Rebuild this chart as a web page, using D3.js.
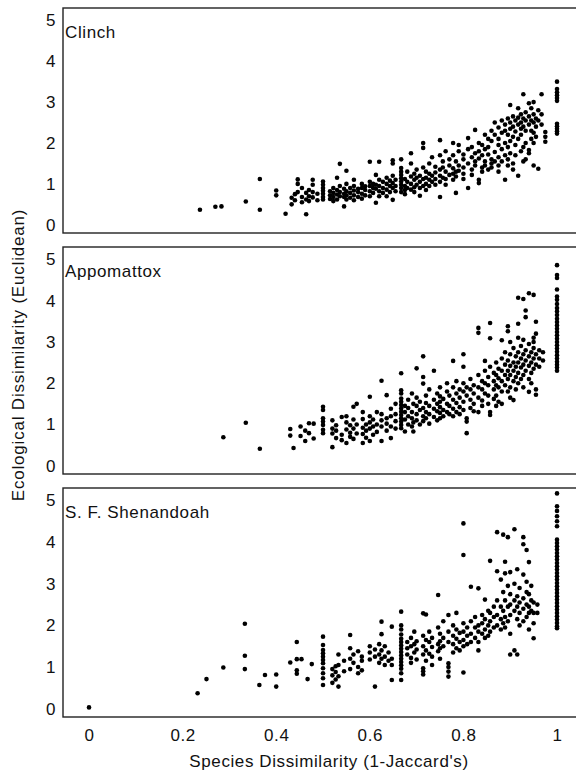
<!DOCTYPE html>
<html>
<head>
<meta charset="utf-8">
<script src="https://cdn.jsdelivr.net/npm/d3@7"></script>
<style>
  body { margin: 0; background: #fff; }
  text { font-family: "Liberation Sans", Arial, Helvetica, sans-serif; fill: #111; letter-spacing: 0.6px; }
</style>
</head>
<body>
<div id="chart"></div>
<script>
// each row: [species dissimilarity, ecological dissimilarity values at that x...]
var clinch = [
  [0.237, 0.37], [0.27, 0.44], [0.283, 0.45], [0.335, 0.57],
  [0.365, 1.12, 0.37], [0.40, 0.84, 0.72], [0.42, 0.27], [0.433, 0.66, 0.5],
  [0.44, 0.6, 0.75], [0.446, 1.11, 1.0, 0.8], [0.455, 0.68, 0.55, 0.9],
  [0.464, 0.26, 0.62, 0.78], [0.47, 0.85, 0.7, 0.58], [0.478, 1.1, 0.98, 0.8, 0.67],
  [0.488, 0.6, 0.76], [0.5, 1.06, 0.98, 0.9, 0.83, 0.76, 0.68, 0.62],
  [0.515, 0.82, 0.72, 0.63], [0.522, 0.9, 0.78, 0.68, 0.58], [0.53, 1.15, 0.85, 0.74, 0.62],
  [0.536, 1.49, 0.95, 0.8, 0.7], [0.545, 0.45, 0.68, 0.88, 0.76], [0.55, 1.32, 1.0, 0.82, 0.72, 0.62],
  [0.558, 0.9, 0.78, 0.66], [0.566, 1.1, 0.95, 0.84, 0.72, 0.6], [0.575, 0.8, 0.68, 0.88],
  [0.583, 1.0, 0.9, 0.76, 0.64], [0.59, 0.85, 0.72, 0.94], [0.6, 1.54, 1.05, 0.95, 0.82, 0.7],
  [0.607, 0.9, 0.78, 1.0], [0.613, 1.22, 0.54, 0.88, 0.98], [0.62, 1.54, 1.1, 0.95, 0.82, 0.7],
  [0.628, 1.05, 0.9, 0.78], [0.636, 0.7, 1.15, 1.0, 0.86], [0.643, 0.95, 0.8, 1.08],
  [0.649, 1.58, 1.5, 1.2, 1.02, 0.9, 0.61], [0.655, 1.1, 0.95, 0.82],
  [0.667, 1.6, 1.39, 1.3, 1.22, 1.14, 1.06, 0.98, 0.9, 0.8], [0.675, 1.12, 0.95, 0.85, 0.75],
  [0.68, 1.3, 1.05, 0.9], [0.688, 1.75, 1.5, 1.18, 1.0, 0.86], [0.695, 1.25, 1.1, 0.92, 0.8],
  [0.7, 1.35, 1.15, 0.98], [0.707, 0.71, 1.05, 1.2, 0.9], [0.714, 2.0, 1.88, 1.4, 1.12, 0.95],
  [0.72, 1.3, 1.15, 1.0, 0.85], [0.727, 1.5, 1.25, 1.1, 0.95], [0.733, 1.65, 1.2, 1.05],
  [0.74, 1.42, 1.28, 1.12, 0.98], [0.75, 2.07, 1.7, 1.35, 1.2, 1.05, 0.68], [0.756, 1.55, 1.4, 1.15],
  [0.762, 1.8, 1.3, 1.12, 0.98], [0.77, 1.6, 1.45, 1.22], [0.778, 2.0, 1.7, 1.38, 1.25, 1.1],
  [0.784, 0.78, 1.55, 1.3, 1.18], [0.79, 1.95, 1.8, 1.45, 1.32], [0.8, 1.72, 1.6, 1.4, 1.25, 1.12],
  [0.81, 2.12, 1.85, 1.5, 0.9], [0.818, 1.9, 1.65, 1.35, 1.22], [0.825, 2.32, 1.75, 1.55, 1.45],
  [0.833, 2.0, 1.8, 1.62, 1.1, 1.02], [0.84, 1.95, 1.7, 1.4, 1.3], [0.846, 2.2, 1.85, 1.55, 1.45],
  [0.853, 2.1, 1.9, 1.72, 1.35], [0.86, 2.3, 2.05, 1.6, 1.5, 1.4], [0.867, 2.5, 2.2, 1.78, 1.55],
  [0.875, 2.38, 2.1, 1.95, 1.65, 1.45, 1.3], [0.882, 2.55, 2.25, 1.85, 1.55],
  [0.889, 2.45, 2.3, 2.0, 1.7, 1.1], [0.895, 2.6, 2.2, 1.9, 1.6, 1.45],
  [0.9, 2.93, 2.5, 2.35, 2.05, 1.75], [0.906, 2.65, 2.4, 2.15, 1.5, 1.35],
  [0.911, 2.55, 2.28, 1.95, 1.7], [0.917, 2.85, 2.62, 2.45, 2.1, 1.2],
  [0.923, 2.7, 2.5, 2.35, 2.2, 1.8], [0.928, 3.19, 2.6, 2.4, 1.9, 1.55],
  [0.933, 2.75, 2.55, 2.3, 2.0, 1.6], [0.94, 2.97, 2.65, 2.45, 1.83, 1.75],
  [0.945, 2.85, 2.55, 2.3, 2.1], [0.95, 3.0, 2.7, 2.5, 2.25, 2.0, 1.45],
  [0.955, 2.6, 2.4, 2.15], [0.96, 2.8, 2.55, 1.37], [0.967, 3.19, 2.7, 2.45],
  [0.975, 2.27, 2.15, 2.03],
  [1.0, 3.5, 3.32, 3.24, 3.17, 3.1, 3.03, 2.47, 2.41, 2.35, 2.29, 2.23]
];

var appomattox = [
  [0.287, 0.69], [0.335, 1.04], [0.365, 0.41], [0.43, 0.89, 0.73], [0.437, 0.43],
  [0.452, 0.72, 0.95], [0.462, 0.6, 0.85], [0.47, 1.03, 0.79], [0.48, 1.02, 0.66],
  [0.5, 1.43, 1.35, 1.15, 1.07, 0.99, 0.87, 0.79], [0.52, 0.45, 0.9, 1.1, 0.78],
  [0.528, 0.67, 0.98, 0.85], [0.54, 0.75, 1.18, 0.62], [0.55, 1.2, 0.88, 0.55, 1.05],
  [0.558, 0.98, 0.7, 0.8], [0.565, 1.43, 1.12, 0.9, 0.65], [0.572, 1.5, 0.78, 1.0],
  [0.585, 1.3, 1.13, 0.77, 0.55, 0.92], [0.592, 1.0, 0.85, 0.68], [0.6, 1.67, 1.2, 1.05, 0.9, 0.6],
  [0.607, 1.12, 0.75, 0.95], [0.615, 1.3, 0.82, 1.0], [0.625, 2.06, 1.25, 1.1, 0.95, 0.6],
  [0.636, 1.71, 1.15, 0.85, 1.02], [0.645, 1.38, 0.67, 1.2, 0.95], [0.655, 1.5, 1.08, 0.9, 1.25],
  [0.667, 2.24, 1.83, 1.75, 1.63, 1.55, 1.47, 1.39, 1.31, 1.23, 1.15, 1.07, 0.99, 0.91],
  [0.675, 0.83, 1.45, 1.3, 1.12], [0.682, 1.6, 1.4, 1.2, 1.0], [0.69, 1.75, 1.3, 1.15, 0.95],
  [0.693, 0.83, 1.5, 1.05], [0.7, 2.36, 1.65, 1.45, 1.25, 1.1], [0.707, 1.55, 1.35, 1.0],
  [0.714, 2.65, 2.15, 1.99, 1.4, 1.2, 1.08], [0.72, 1.7, 1.52, 1.3, 1.15],
  [0.727, 1.85, 1.45, 1.25, 1.02], [0.737, 2.3, 1.6, 1.38, 1.18], [0.744, 1.75, 1.5, 1.32, 1.1],
  [0.75, 1.9, 1.68, 1.55, 1.42, 1.28, 1.15], [0.757, 1.62, 1.35, 1.2], [0.765, 2.0, 1.8, 1.5, 1.3],
  [0.77, 1.7, 1.45, 1.25], [0.778, 2.54, 1.9, 1.6, 1.38, 1.2], [0.785, 2.05, 1.75, 1.52, 1.3],
  [0.792, 1.85, 1.65, 1.42, 1.25], [0.8, 2.7, 2.4, 2.0, 1.8, 1.55, 1.35],
  [0.807, 0.79, 1.15, 1.07, 1.9, 1.7], [0.815, 2.1, 1.85, 1.6, 1.4], [0.822, 1.95, 1.75, 1.5, 1.32],
  [0.832, 3.34, 3.22, 2.2, 1.9, 1.65, 1.3], [0.84, 2.05, 1.85, 1.58, 1.45],
  [0.846, 2.54, 2.3, 2.0, 1.75], [0.853, 2.15, 1.95, 1.7, 1.5], [0.857, 3.46, 3.09, 2.4, 1.3, 1.23],
  [0.865, 2.25, 2.05, 1.85, 1.62], [0.87, 2.5, 2.2, 1.95, 1.7, 1.45], [0.875, 2.35, 2.12, 1.9, 1.55],
  [0.882, 3.04, 2.6, 2.3, 2.05, 1.8, 1.5], [0.889, 2.75, 2.45, 2.2, 1.95],
  [0.895, 3.38, 3.26, 2.55, 2.3, 2.1, 1.8], [0.9, 3.0, 2.7, 2.42, 2.2, 1.9, 1.65],
  [0.907, 2.85, 2.5, 2.3, 2.05, 1.59], [0.912, 2.65, 2.4, 2.15, 1.85],
  [0.917, 4.07, 3.44, 3.1, 2.75, 2.5, 2.25, 2.0], [0.923, 2.9, 2.6, 2.38, 2.1],
  [0.928, 4.04, 3.05, 2.7, 2.45, 2.2, 1.9], [0.933, 3.76, 3.6, 2.8, 2.55, 2.3],
  [0.94, 4.18, 2.95, 2.65, 2.42, 2.1, 1.79], [0.945, 2.75, 2.5, 2.25, 2.0],
  [0.95, 4.14, 3.1, 3.0, 2.85, 2.6, 2.35], [0.955, 3.49, 3.2, 2.7, 2.45, 1.72, 1.85],
  [0.962, 2.8, 2.6, 2.4], [0.97, 2.75, 2.55],
  [1.0, 4.86, 4.62, 4.55, 4.27, 4.1, 4.02, 3.92, 3.82, 3.74, 3.65, 3.56, 3.48, 3.4, 3.32,
   3.24, 3.16, 3.08, 3.0, 2.92, 2.84, 2.76, 2.68, 2.6, 2.52, 2.45, 2.38, 2.3]
];

var shenandoah = [
  [0, 0.03], [0.232, 0.37], [0.251, 0.71], [0.287, 0.99], [0.333, 2.04, 1.27, 0.95],
  [0.364, 0.57], [0.376, 0.81], [0.4, 0.82, 0.53], [0.43, 1.11], [0.444, 1.6, 1.19, 0.92, 0.84],
  [0.454, 1.19], [0.467, 0.71], [0.476, 1.07],
  [0.5, 1.73, 1.53, 1.41, 1.33, 1.25, 1.17, 1.09, 0.97, 0.85, 0.73, 0.57],
  [0.52, 0.95, 0.8, 0.62], [0.527, 1.02, 0.7, 0.88], [0.533, 0.53, 1.3, 1.05, 0.78],
  [0.545, 1.15, 0.9], [0.558, 1.77, 1.45, 1.2, 0.95], [0.565, 1.3, 1.1], [0.575, 1.38, 1.0, 0.85],
  [0.583, 1.25, 1.15, 0.92], [0.6, 1.5, 1.35, 1.18], [0.611, 0.53, 1.42, 1.25], [0.62, 1.3, 1.55, 1.1],
  [0.625, 2.09, 1.79, 1.4, 1.2], [0.632, 1.5, 1.25, 1.05], [0.64, 1.35, 1.15],
  [0.647, 1.97, 1.2, 1.05, 0.69],
  [0.667, 2.33, 2.0, 1.9, 1.78, 1.68, 1.6, 1.52, 1.44, 1.36, 1.28, 1.2, 1.12, 1.04, 0.96, 0.85, 0.69],
  [0.68, 1.6, 1.45, 1.3], [0.688, 1.7, 1.5, 1.22, 1.1], [0.695, 1.85, 1.55, 1.35], [0.7, 1.62, 1.42, 1.18],
  [0.714, 2.29, 1.75, 1.5, 1.3, 0.97, 0.82, 0.9], [0.72, 2.26, 1.65, 1.4, 1.15], [0.727, 1.85, 1.6, 1.32],
  [0.733, 1.7, 1.48, 1.25, 1.05], [0.746, 2.73, 1.95, 1.55, 1.38], [0.75, 1.8, 1.62, 1.45, 1.2],
  [0.757, 2.1, 1.7, 1.5], [0.768, 2.25, 1.85, 1.6, 1.09, 1.0, 0.89, 0.77], [0.778, 2.0, 1.75, 1.55, 1.35],
  [0.785, 2.3, 1.9, 1.68, 1.45], [0.792, 1.82, 1.6, 1.4], [0.8, 4.45, 3.69, 2.05, 1.85, 1.65, 1.5, 0.87],
  [0.808, 1.95, 1.75, 1.55], [0.816, 2.93, 2.1, 1.8, 1.6], [0.825, 2.2, 1.95, 1.7],
  [0.832, 2.89, 2.0, 1.85, 1.6, 1.4], [0.84, 2.25, 2.05, 1.8], [0.846, 2.62, 2.15, 1.9, 1.7],
  [0.853, 2.35, 2.0, 1.75], [0.857, 3.55, 2.3, 2.1, 1.85], [0.865, 2.45, 2.2, 1.95],
  [0.872, 4.24, 3.3, 2.6, 2.25, 2.0], [0.88, 3.1, 2.45, 2.15, 1.9], [0.885, 4.18, 2.8, 2.35, 2.05],
  [0.889, 3.53, 3.25, 2.6, 2.2, 1.95], [0.895, 4.12, 2.95, 2.45, 2.1],
  [0.9, 3.28, 2.75, 2.5, 2.25, 1.3, 1.8], [0.909, 4.31, 3.0, 2.6, 2.35, 1.4],
  [0.915, 3.35, 2.7, 2.45, 2.15, 1.3], [0.92, 2.9, 2.55, 2.3, 2.0],
  [0.928, 4.12, 3.95, 3.22, 2.65, 2.4, 2.1], [0.935, 3.81, 3.05, 2.8, 2.5, 2.2],
  [0.94, 3.52, 2.75, 2.45, 2.3, 1.9], [0.945, 2.95, 2.6, 2.35], [0.95, 2.55, 2.3, 2.05, 1.69],
  [0.958, 2.3, 2.5],
  [1.0, 5.17, 4.86, 4.75, 4.62, 4.5, 4.38, 4.06, 3.98, 3.9, 3.82, 3.74, 3.66, 3.58, 3.5, 3.42,
   3.34, 3.26, 3.18, 3.1, 3.02, 2.94, 2.86, 2.78, 2.7, 2.62, 2.54, 2.46, 2.38, 2.3, 2.22, 2.14,
   2.06, 1.98, 1.93]
];

var panelNames = ["Clinch", "Appomattox", "S. F. Shenandoah"];
var xTicks = [0, 0.2, 0.4, 0.6, 0.8, 1];
var xTickLabels = ["0", "0.2", "0.4", "0.6", "0.8", "1"];
var yTicks = [0, 1, 2, 3, 4, 5];

var width = 576,
    height = 770;

// panel frames (top / bottom in px)
var left = 63, right = 577;
var tops = [8, 247, 488],
    bottoms = [233, 474, 717];

var svg = d3.select("#chart")
  .append("svg")
  .attr("width", width)
  .attr("height", height);

var x = d3.scaleLinear()
  .domain([-0.0556, 1.0427])
  .range([left, right]);

var panels = [clinch, appomattox, shenandoah];

panels.forEach(function(rows, i) {
  var y = d3.scaleLinear()
    .domain([-0.2, 5.3])
    .range([bottoms[i], tops[i]]);

  var g = svg.append("g");

  // points, flatten rows
  var pts = rows.flatMap(function(r) {
    return r.slice(1).map(function(v) { return [r[0], v]; });
  });

  g.selectAll("circle")
    .data(pts)
    .enter().append("circle")
    .attr("cx", function(d) { return x(d[0]); })
    .attr("cy", function(d) { return y(d[1]); })
    .attr("r", 2.3)
    .attr("fill", "#000");

  // y tick labels, no tick marks
  var yAxis = d3.axisLeft(y).tickValues(yTicks).tickSize(0).tickPadding(7).tickFormat(d3.format("d"));
  var ya = g.append("g").attr("transform", "translate(" + left + ",0)").call(yAxis);
  ya.select(".domain").remove();
  ya.selectAll("text").style("font-size", "17px").attr("fill", "#111");

  // frame
  g.append("rect")
    .attr("x", left)
    .attr("y", tops[i])
    .attr("width", right - left)
    .attr("height", bottoms[i] - tops[i])
    .attr("fill", "none")
    .attr("stroke", "#222")
    .attr("stroke-width", 1.4);

  g.append("text")
    .attr("x", left + 2)
    .attr("y", tops[i] + 30)
    .style("font-size", "17px")
    .text(panelNames[i]);

  if (i == 2) {
    var xAxis = d3.axisBottom(x).tickValues(xTicks).tickSize(0).tickPadding(12)
      .tickFormat(function(d, k) { return xTickLabels[k]; });
    var xa = g.append("g").attr("transform", "translate(0," + bottoms[i] + ")").call(xAxis);
    xa.select(".domain").remove();
    xa.selectAll("text").style("font-size", "17px").attr("fill", "#111");
  }
});

// axis titles
svg.append("text")
  .attr("x", 329)
  .attr("y", 767)
  .attr("text-anchor", "middle")
  .style("font-size", "17px")
  .text("Species Dissimilarity (1-Jaccard's)");

svg.append("text")
  .attr("transform", "translate(24,355) rotate(-90)")
  .attr("text-anchor", "middle")
  .style("font-size", "17px")
  .style("letter-spacing", "0.8px")
  .text("Ecological Dissimilarity (Euclidean)");
</script>
</body>
</html>
